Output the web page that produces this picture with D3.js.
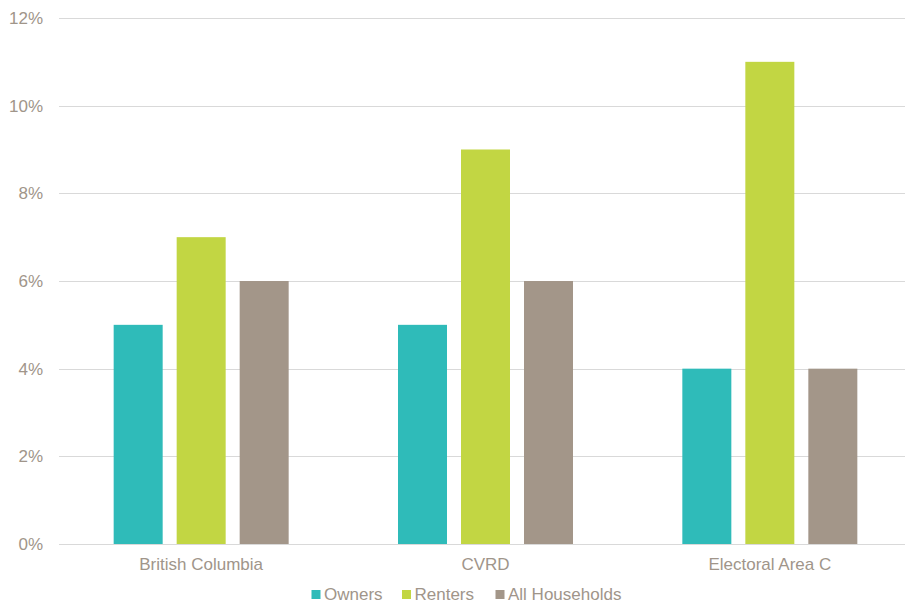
<!DOCTYPE html>
<html>
<head>
<meta charset="utf-8">
<script src="https://cdn.jsdelivr.net/npm/d3@7"></script>
<style>
  body { margin: 0; background: #fff; }
  text { font-family: "Liberation Sans", Arial, sans-serif; }
</style>
</head>
<body>
<script>
// data
var categories = ["British Columbia", "CVRD", "Electoral Area C"];
var series = ["Owners", "Renters", "All Households"];
var owners = [5, 5, 4];
var renters = [7, 9, 11];
var allHouseholds = [6, 6, 4];
var yTicks = [0, 2, 4, 6, 8, 10, 12];

var colors = ["#2fbbb9", "#c2d643", "#a39689"];
var values = [owners, renters, allHouseholds];

var W = 905, H = 604;
var margin = {top: 18, right: -7, bottom: 60, left: 59},
	width = W - margin.left - margin.right,
	height = H - margin.top - margin.bottom;

var svg = d3.select("body").append("svg")
	.attr("width", W)
	.attr("height", H);

var g = svg.append("g")
	.attr("transform", "translate(" + margin.left + "," + margin.top + ")");

var x = d3.scaleBand()
	.domain(categories)
	.range([0, width]);

var y = d3.scaleLinear()
	.domain([0, 12])
	.range([height, 0]);

var barW = 49, gap = 14;
var x1 = d3.scaleBand()
	.domain(series)
	.range([0, barW * 3 + gap * 2])
	.paddingInner(gap / (barW + gap));

// grid
g.append("g")
	.selectAll("line")
	.data(yTicks)
	.join("line")
	.attr("x1", 0)
	.attr("x2", width)
	.attr("y1", function(d) { return Math.round(y(d)) + 0.5; })
	.attr("y2", function(d) { return Math.round(y(d)) + 0.5; })
	.attr("stroke", "#d9d9d9")
	.attr("stroke-width", 1);

// y labels
g.append("g")
	.selectAll("text")
	.data(yTicks)
	.join("text")
	.attr("x", -16)
	.attr("y", function(d) { return y(d); })
	.attr("dy", "0.35em")
	.attr("text-anchor", "end")
	.attr("font-size", 17)
	.attr("fill", "#a0958a")
	.text(function(d) { return d + "%"; });

// bars
var groupW = barW * 3 + gap * 2;
var groups = g.append("g")
	.selectAll("g")
	.data(categories)
	.join("g")
	.attr("transform", function(d) {
		return "translate(" + (x(d) + (x.bandwidth() - groupW) / 2) + ",0)";
	});

groups.selectAll("rect")
	.data(function(d, i) {
		return series.map(function(s, j) { return {s: s, v: values[j][i], c: colors[j]}; });
	})
	.join("rect")
	.attr("x", function(d) { return x1(d.s); })
	.attr("width", x1.bandwidth())
	.attr("y", function(d) { return y(d.v); })
	.attr("height", function(d) { return height - y(d.v); })
	.attr("fill", function(d) { return d.c; });

// x labels
g.append("g")
	.selectAll("text")
	.data(categories)
	.join("text")
	.attr("x", function(d) { return x(d) + x.bandwidth() / 2; })
	.attr("y", height + 20)
	.attr("dy", "0.35em")
	.attr("text-anchor", "middle")
	.attr("font-size", 17)
	.attr("fill", "#a0958a")
	.text(function(d) { return d; });

// legend
var legendX = [311.5, 402, 495.5];
var legend = svg.append("g")
	.selectAll("g")
	.data(series)
	.join("g")
	.attr("transform", function(d, i) { return "translate(" + legendX[i] + "," + 594 + ")"; });

legend.append("rect")
	.attr("x", 0)
	.attr("y", -4)
	.attr("width", 9)
	.attr("height", 9)
	.attr("fill", function(d, i) { return colors[i]; });

legend.append("text")
	.attr("x", 12.5)
	.attr("y", 0)
	.attr("dy", "0.35em")
	.attr("font-size", 17)
	.attr("fill", "#a0958a")
	.text(function(d) { return d; });
</script>
</body>
</html>
